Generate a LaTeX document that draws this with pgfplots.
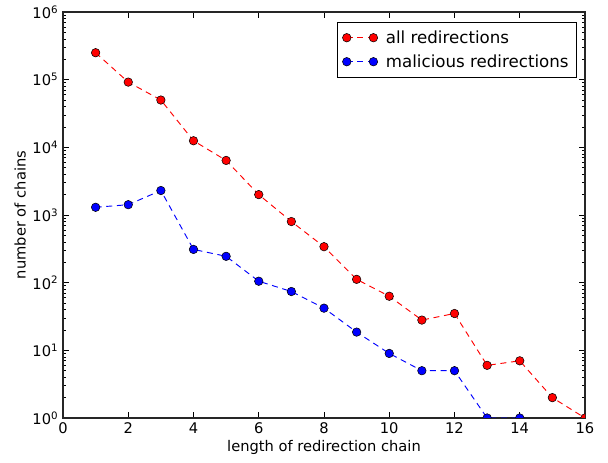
\documentclass[border=0pt]{standalone}
\usepackage{pgfplots}
\pgfplotsset{compat=1.18}
\usepackage{fontspec}
\setmainfont{DejaVu Sans}
\begin{document}
\begin{tikzpicture}
\begin{axis}[
  scale only axis,
  width=391.5pt, height=304.5pt,
  ymode=log,
  xmin=0, xmax=16, ymin=1, ymax=1e6,
  clip mode=individual,
  clip marker paths=true,
  xtick={0,2,...,16},
  ytick={1,10,100,1000,10000,100000,1000000},
  yticklabels={10\textsuperscript{0},10\textsuperscript{1},10\textsuperscript{2},10\textsuperscript{3},10\textsuperscript{4},10\textsuperscript{5},10\textsuperscript{6}},
  /pgf/number format/assume math mode=true,
  tick align=inside,
  major tick length=4.5pt, minor tick length=2.5pt,
  tick style={black, line width=0.5pt},
  axis line style={line width=0.8pt, black!85},
  ticklabel style={font=\fontsize{11}{13}\selectfont},
  xlabel={length of redirection chain},
  ylabel={number of chains},
  label style={font=\fontsize{11}{13}\selectfont},
  xlabel style={yshift=2pt},
  ylabel style={yshift=-2pt},
  legend style={at={(1,1)}, anchor=north east, xshift=-6pt, yshift=-7.5pt,
    font=\fontsize{12.5}{15}\selectfont, draw=black, line width=0.6pt,
    row sep=3pt, inner xsep=4pt, inner ysep=4pt},
  legend cell align=left,
  legend image code/.code={\draw[#1] plot coordinates {(0pt,0pt) (20pt,0pt)}; \path (27pt,0pt);},
  every axis plot/.append style={line width=0.7pt, dash pattern=on 4.5pt off 3.5pt,
    mark=*, mark size=3.2pt},
]
\addplot[red, mark options={solid, fill=red, draw=black, line width=0.4pt}] coordinates {
(1,250000) (2,92000) (3,50000) (4,12500) (5,6400) (6,2000) (7,800) (8,340)
(9,112) (10,63) (11,28) (12,35) (13,6) (14,7) (15,2) (16,1)};
\addlegendentry{all redirections}
\addplot[blue, mark options={solid, fill=blue, draw=black, line width=0.4pt}] coordinates {
(1,1300) (2,1420) (3,2300) (4,310) (5,245) (6,105) (7,74) (8,42)
(9,18.6) (10,9) (11,5) (12,5) (13,1) (14,1)};
\addlegendentry{malicious redirections}
\end{axis}
\pgfresetboundingbox
\path ([xshift=-47.25pt,yshift=-33.75pt]current axis.south west) rectangle ([xshift=17.25pt,yshift=9pt]current axis.north east);
\end{tikzpicture}
\end{document}
